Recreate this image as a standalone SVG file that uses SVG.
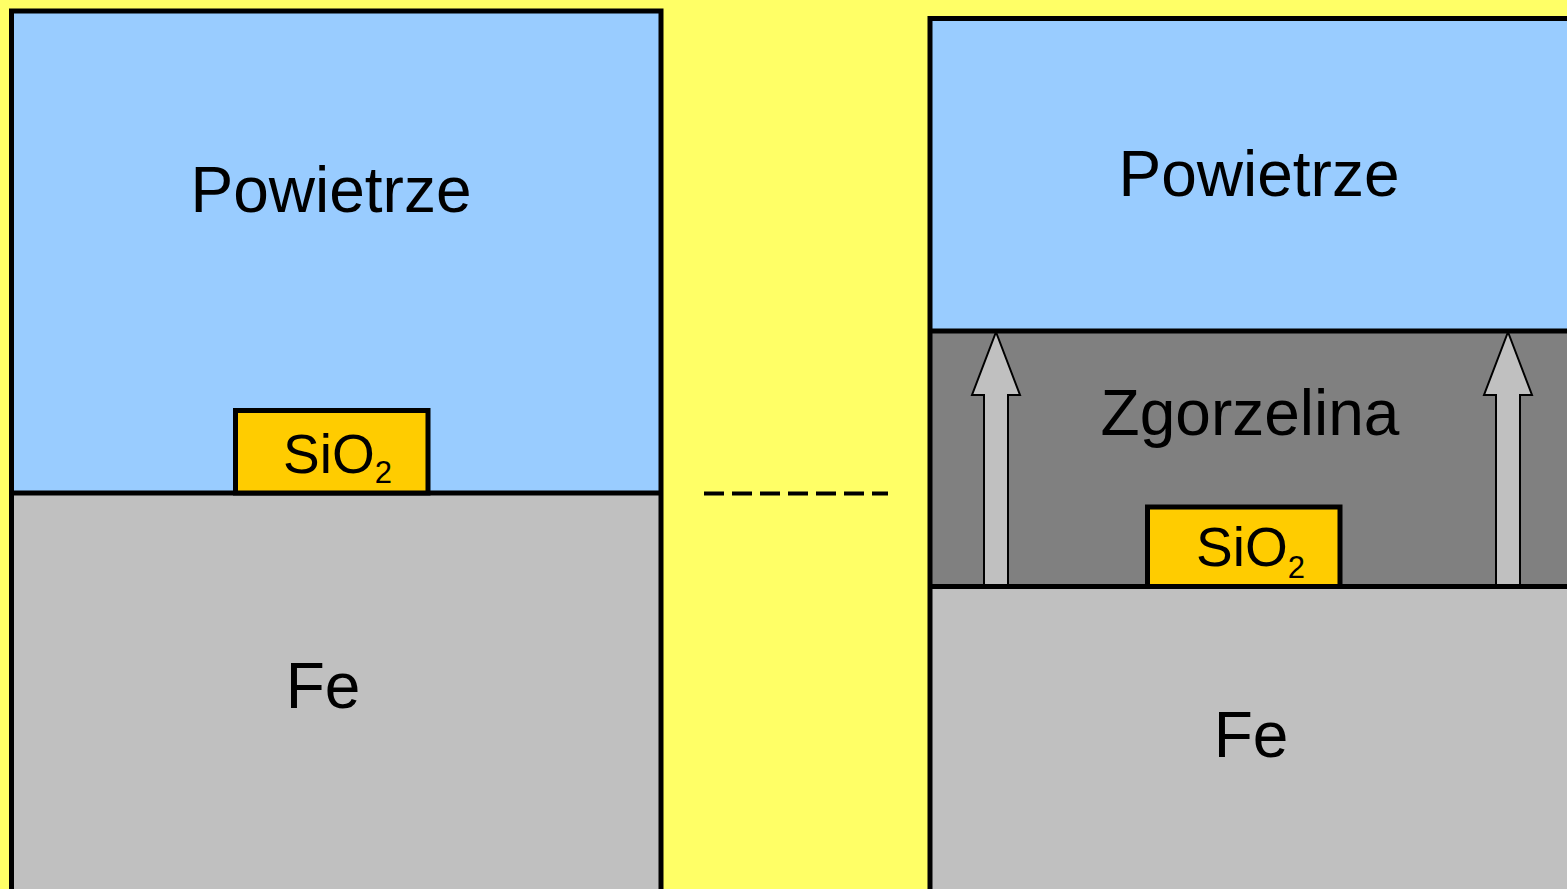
<svg xmlns="http://www.w3.org/2000/svg" width="1567" height="889" viewBox="0 0 1567 889">
<style>
.lbl{font-family:"Liberation Sans",Arial,sans-serif;fill:#000;text-anchor:middle}
.big{font-size:64px}
.sio{font-family:"Liberation Sans",Arial,sans-serif;font-size:55px;fill:#000}
.sub{font-size:31px}
.edge{stroke:#000;stroke-width:5;fill:none}
.arrow{fill:#C0C0C0;stroke:#000;stroke-width:2}
</style>
<rect width="1567" height="889" fill="#FFFF66"/>
<g id="left-panel">
  <g id="left-air">
    <rect x="11.5" y="11" width="649.5" height="482" fill="#99CCFF"/>
    <text class="lbl big" x="331" y="212">Powietrze</text>
  </g>
  <g id="left-fe">
    <rect x="11.5" y="493" width="649.5" height="410" fill="#C0C0C0"/>
    <text class="lbl big" x="323" y="708">Fe</text>
  </g>
  <rect class="edge" x="11.5" y="11" width="649.5" height="900"/>
  <line class="edge" x1="11.5" y1="493" x2="661" y2="493"/>
  <g id="left-sio2">
    <rect x="235.5" y="410.5" width="192.5" height="82.5" fill="#FFCC00" stroke="#000" stroke-width="5"/>
    <text class="sio" x="283" y="473">SiO<tspan class="sub" dy="10">2</tspan></text>
  </g>
</g>
<g id="right-panel">
  <g id="right-air">
    <rect x="930" y="18.5" width="660" height="312.5" fill="#99CCFF"/>
    <text class="lbl big" x="1259" y="196">Powietrze</text>
  </g>
  <g id="right-scale">
    <rect x="930" y="331" width="660" height="255.5" fill="#808080"/>
    <text class="lbl big" x="1250" y="435">Zgorzelina</text>
  </g>
  <g id="right-fe">
    <rect x="930" y="586.5" width="660" height="330" fill="#C0C0C0"/>
    <text class="lbl big" x="1251" y="757">Fe</text>
  </g>
  <g id="connectors">
    <polygon class="arrow" points="996,332 1020,395 1008,395 1008,586 984,586 984,395 972,395"/>
    <polygon class="arrow" points="1508,332 1532,395 1520,395 1520,586 1496,586 1496,395 1484,395"/>
    <line x1="704" y1="493.5" x2="888" y2="493.5" stroke="#000" stroke-width="4" stroke-dasharray="20 8"/>
  </g>
  <rect class="edge" x="930" y="18.5" width="700" height="900"/>
  <line class="edge" x1="930" y1="331" x2="1600" y2="331"/>
  <line class="edge" x1="930" y1="586.5" x2="1600" y2="586.5"/>
  <g id="right-sio2">
    <rect x="1147.5" y="507" width="192.5" height="79.5" fill="#FFCC00" stroke="#000" stroke-width="5"/>
    <text class="sio" x="1196" y="566">SiO<tspan class="sub" dy="12">2</tspan></text>
  </g>
</g>
</svg>
